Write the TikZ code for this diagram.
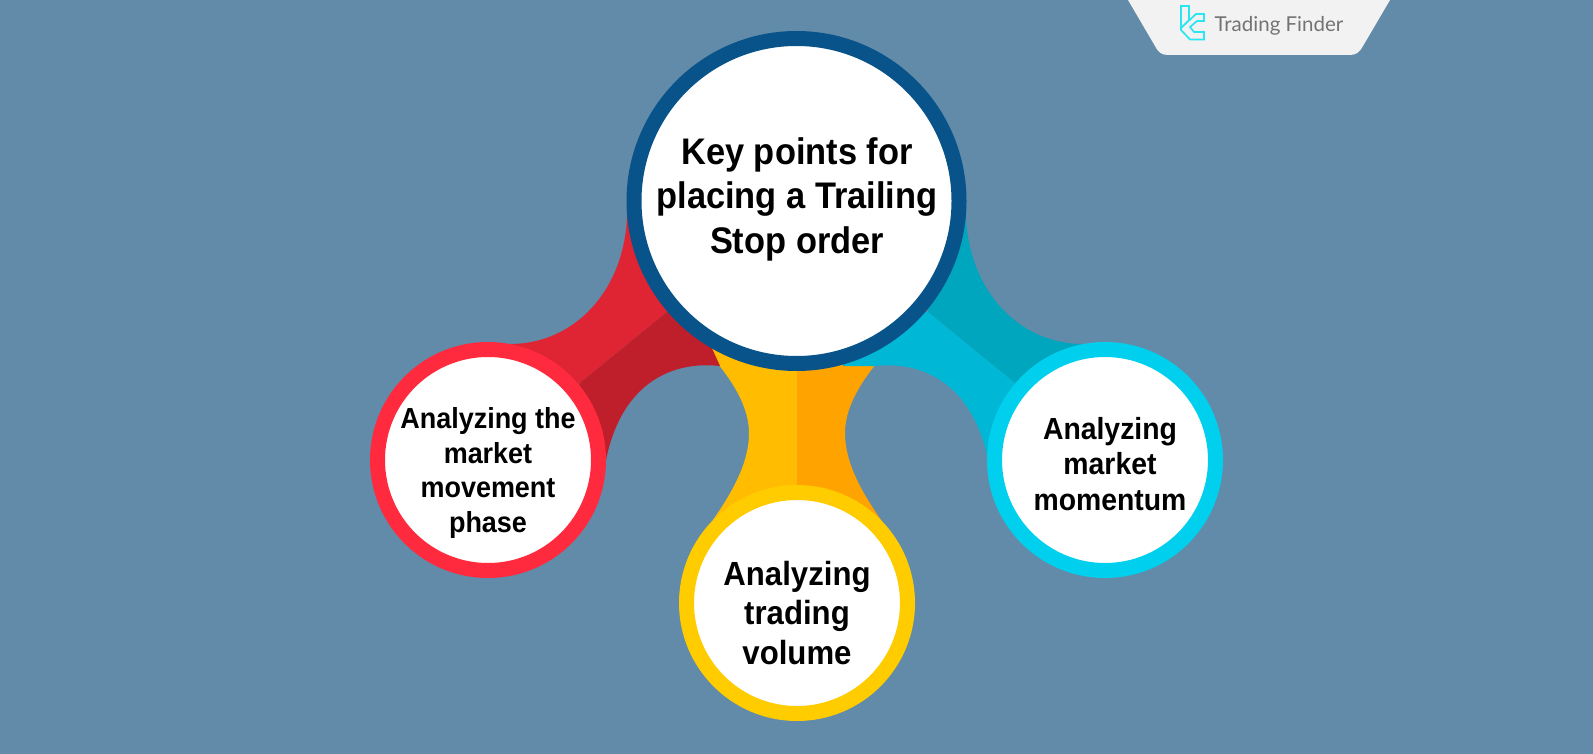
\documentclass[tikz,border=0pt]{standalone}
\usepackage{fontspec}
\setmainfont[FakeStretch=0.93]{Liberation Sans}
\newfontfamily\logofont{Lato}
\definecolor{bgblue}{HTML}{628AA9}
\definecolor{panelgray}{HTML}{F2F2F2}
\definecolor{mainring}{HTML}{08548A}
\definecolor{redring}{HTML}{FF2A3D}
\definecolor{redup}{HTML}{DF2433}
\definecolor{reddown}{HTML}{BF1F2A}
\definecolor{yelring}{HTML}{FFCC00}
\definecolor{yelleft}{HTML}{FFBC00}
\definecolor{yelright}{HTML}{FFA300}
\definecolor{cyanring}{HTML}{00D0EE}
\definecolor{cyanup}{HTML}{00A6BD}
\definecolor{cyandown}{HTML}{00B7D5}
\definecolor{logocyan}{HTML}{2CE5F2}
\tikzset{
	bubble/.style={circle, fill=white, line width=15pt, inner sep=0pt, minimum size=#1},
	caption/.style={align=center, font=\bfseries},
}
\begin{document}
\begin{tikzpicture}[x=1pt, y=-1pt]
	\useasboundingbox (0,0) rectangle (1593,754);
	\fill[bgblue] (0,0) rectangle (1593,754);
	% logo panel
	\fill[panelgray] (1128,0) -- (1155,46) .. controls (1158,52) and (1161,55) .. (1168,55) -- (1350,55) .. controls (1356,55) and (1360,52) .. (1363,46) -- (1390,0) -- cycle;
	\draw[logocyan, line width=1.7pt] (1181,6) -- (1189,6) -- (1189,20) -- (1181,28) -- cycle (1204,14) -- (1196,14) -- (1181,28) -- (1181,30) -- (1190,39.5) -- (1204,39.5) -- (1204,32) -- (1194,32) -- (1190,27) -- (1197,21) -- (1204,21) -- cycle;
	\node[anchor=west, text=gray!90!black, font=\logofont\fontsize{20.5}{22}\selectfont] (logotext) at (1211,26) {Trading Finder};
	% yellow arm
	\fill[yelleft] (693,337) .. controls (730,373) and (749,405) .. (749,433) .. controls (749,465) and (730,495) .. (713,520) -- (797,560) -- (797,300) -- cycle;
	\fill[yelright] (901,337) .. controls (864,373) and (845,405) .. (845,433) .. controls (845,465) and (864,495) .. (881,520) -- (797,560) -- (797,300) -- cycle;
	% red arm
	\fill[redup] (627,217) .. controls (624,290) and (575,344) .. (510,344) -- (560,400) -- (580,383) -- (667,312) -- (660,260) -- cycle;
	\fill[reddown] (667,312) -- (580,383) -- (560,420) -- (606,460) .. controls (620,390) and (665,360) .. (720,366) -- (690,300) -- cycle;
	% cyan arm
	\fill[cyanup] (966,217) .. controls (969,290) and (1018,344) .. (1083,344) -- (1033,400) -- (1015,383) -- (928,312) -- (933,260) -- cycle;
	\fill[cyandown] (928,312) -- (1015,383) -- (1033,420) -- (988,460) .. controls (974,390) and (929,360) .. (874,366) -- (843,366) -- (850,300) -- cycle;
	% circles
	\node[bubble=325pt, draw=mainring] (keyc) at (796.5,201) {};
	\node[bubble=221pt, draw=redring] (redc) at (488,460) {};
	\node[bubble=221pt, draw=yelring] (yelc) at (797,603) {};
	\node[bubble=221pt, draw=cyanring] (cyanc) at (1105,460) {};
	% texts
	\node[caption, font=\bfseries\fontsize{37}{44.5}\selectfont] (keyt) at (797,199) {Key points for\\placing a Trailing\\Stop order};
	\node[caption, font=\bfseries\fontsize{29}{34.5}\selectfont] (redt) at (488,473) {Analyzing the\\market\\movement\\phase};
	\node[caption, font=\bfseries\fontsize{33.5}{39.6}\selectfont] (yelt) at (797,613) {Analyzing\\trading\\volume};
	\node[caption, font=\bfseries\fontsize{30.5}{35.5}\selectfont] (cyant) at (1110,464) {Analyzing\\market\\momentum};
\end{tikzpicture}
\end{document}
